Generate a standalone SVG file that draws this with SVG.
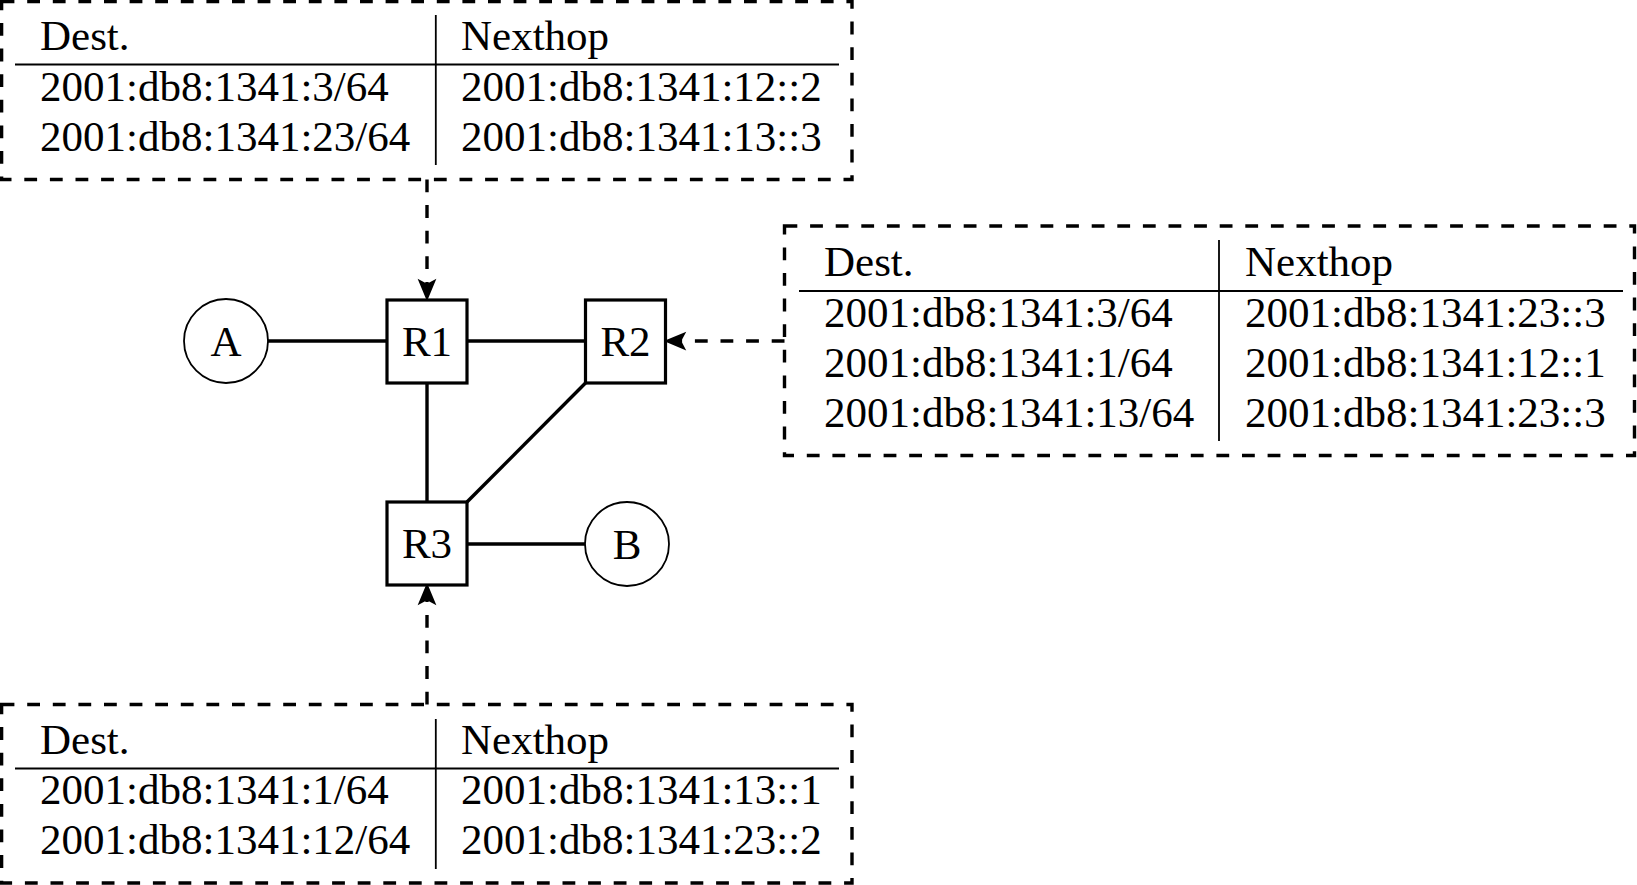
<svg xmlns="http://www.w3.org/2000/svg" width="1637" height="885" viewBox="0 0 1637 885">
<defs>
<style>
text{font-family:"Liberation Serif","Times New Roman",serif;font-size:43px;fill:#000}
.lbl{text-anchor:middle}
.box{fill:none;stroke:#000;stroke-width:3.4;stroke-dasharray:12.8 12.8}
.rule{stroke:#000;stroke-width:1.8;fill:none}
.node{fill:#fff;stroke:#000;stroke-width:3.2}
.circ{fill:#fff;stroke:#000;stroke-width:1.8}
.edge{stroke:#000;stroke-width:3.4;fill:none}
.dash{stroke:#000;stroke-width:3.4;fill:none;stroke-dasharray:12.8 12.8}
</style>
<marker id="ah" markerUnits="userSpaceOnUse" markerWidth="30" markerHeight="30" refX="0" refY="0" viewBox="-8 -10 24 20" orient="auto" overflow="visible">
<path d="M13,0 L-5,-7.5 L-1,0 L-5,7.5 Z" fill="#000"/>
</marker>
</defs>

<g id="connectors">
<line class="edge" x1="268" y1="341" x2="387" y2="341"/>
<line class="edge" x1="467" y1="341" x2="585.5" y2="341"/>
<line class="edge" x1="427" y1="383" x2="427" y2="502"/>
<line class="edge" x1="585.5" y1="383" x2="467" y2="502"/>
<line class="edge" x1="467" y1="544" x2="585" y2="544"/>
<path class="dash" d="M427,179.5 L427,285" marker-end="url(#ah)"/>
<path class="dash" d="M784.5,341 L680,341" marker-end="url(#ah)"/>
<path class="dash" d="M427,704.5 L427,599" marker-end="url(#ah)"/>
</g>

<g id="A">
<circle class="circ" cx="226" cy="341" r="42"/>
<text class="lbl" x="226" y="355.5">A</text>
</g>
<g id="B">
<circle class="circ" cx="627" cy="544" r="42"/>
<text class="lbl" x="627" y="558.5">B</text>
</g>
<g id="R1">
<rect class="node" x="387" y="300" width="80" height="83"/>
<text class="lbl" x="427" y="355.5">R1</text>
</g>
<g id="R2">
<rect class="node" x="585.5" y="300" width="80" height="83"/>
<text class="lbl" x="625.5" y="355.5">R2</text>
</g>
<g id="R3">
<rect class="node" x="387" y="502" width="80" height="83"/>
<text class="lbl" x="427" y="558">R3</text>
</g>

<g id="table-R1">
<rect class="box" x="1.6" y="1.6" width="850.4" height="177.9"/>
<line class="rule" x1="15" y1="64.5" x2="839" y2="64.5"/>
<line class="rule" x1="435.8" y1="15" x2="435.8" y2="165"/>
<text x="40" y="50">Dest.</text>
<text x="461" y="50">Nexthop</text>
<text x="40" y="100.5">2001:db8:1341:3/64</text>
<text x="461" y="100.5">2001:db8:1341:12::2</text>
<text x="40" y="150.5">2001:db8:1341:23/64</text>
<text x="461" y="150.5">2001:db8:1341:13::3</text>
</g>

<g id="table-R2">
<rect class="box" x="784.5" y="226" width="850" height="229.5"/>
<line class="rule" x1="799" y1="291" x2="1623" y2="291"/>
<line class="rule" x1="1219" y1="240" x2="1219" y2="441"/>
<text x="824" y="276">Dest.</text>
<text x="1245" y="276">Nexthop</text>
<text x="824" y="326.5">2001:db8:1341:3/64</text>
<text x="1245" y="326.5">2001:db8:1341:23::3</text>
<text x="824" y="376.5">2001:db8:1341:1/64</text>
<text x="1245" y="376.5">2001:db8:1341:12::1</text>
<text x="824" y="426.5">2001:db8:1341:13/64</text>
<text x="1245" y="426.5">2001:db8:1341:23::3</text>
</g>

<g id="table-R3">
<rect class="box" x="1.6" y="704.5" width="850.4" height="178.5"/>
<line class="rule" x1="15" y1="768.5" x2="839" y2="768.5"/>
<line class="rule" x1="435.8" y1="719" x2="435.8" y2="869"/>
<text x="40" y="753.5">Dest.</text>
<text x="461" y="753.5">Nexthop</text>
<text x="40" y="804">2001:db8:1341:1/64</text>
<text x="461" y="804">2001:db8:1341:13::1</text>
<text x="40" y="854">2001:db8:1341:12/64</text>
<text x="461" y="854">2001:db8:1341:23::2</text>
</g>
</svg>
